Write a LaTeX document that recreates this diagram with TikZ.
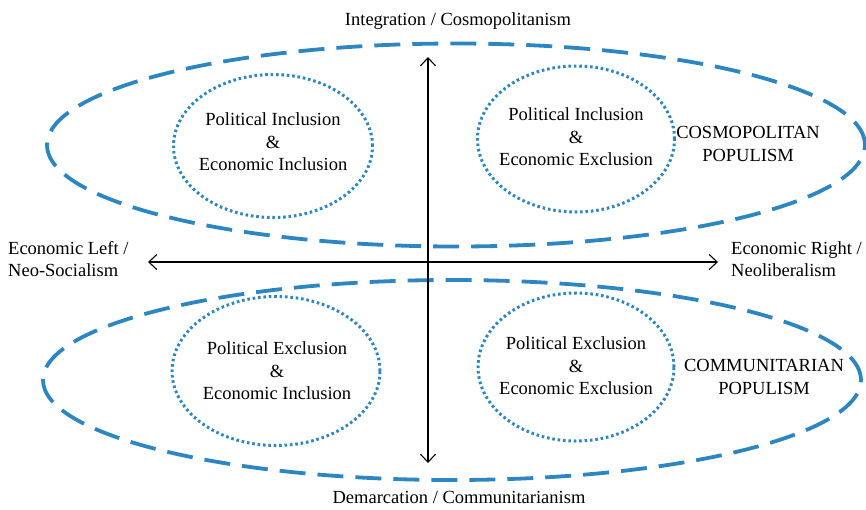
\documentclass[tikz,border=0pt]{standalone}
\usepackage{fontspec}
\setmainfont{Liberation Serif}
\usetikzlibrary{arrows.meta,shapes.geometric}
\definecolor{popblue}{RGB}{46,134,193}
\tikzset{
  bigell/.style={ellipse, draw=popblue, line width=3.8pt, dash pattern=on 26pt off 12pt, inner sep=0pt},
  dotell/.style={ellipse, draw=popblue, line width=3pt, dash pattern=on 2.6pt off 2.8pt, inner sep=0pt},
  lbl/.style={font=\fontsize{18.5pt}{22.5pt}\selectfont, align=center, inner sep=0pt},
  lbll/.style={font=\fontsize{18.5pt}{22.5pt}\selectfont, align=left, inner sep=0pt, anchor=west},
  axis/.style={line width=1.1pt, {Straight Barb[length=8pt,width=15pt]}-{Straight Barb[length=8pt,width=15pt]}}
}
\begin{document}
\begin{tikzpicture}[x=1pt,y=-1pt]
\useasboundingbox (0,0) rectangle (866,509);
% big dashed ellipses
\node[bigell, minimum width=818pt, minimum height=203pt] (cosmo) at (456,145) {};
\node[bigell, minimum width=818pt, minimum height=200pt] (comm) at (452,380) {};
% dotted ellipses
\node[dotell, minimum width=199pt, minimum height=143pt] (tl) at (273,146) {};
\node[dotell, minimum width=197pt, minimum height=146pt] (tr) at (576,139) {};
\node[dotell, minimum width=208pt, minimum height=149pt] (bl) at (276,371) {};
\node[dotell, minimum width=196pt, minimum height=148pt] (br) at (576,367) {};
% axes
\coordinate (ytop) at (428,57);
\coordinate (ybot) at (428,463);
\coordinate (xleft) at (148,262);
\coordinate (xright) at (718,262);
\draw[axis] (ytop) -- (ybot);
\draw[axis] (xleft) -- (xright);
% texts
\node[lbl] (ttop) at (458,21) {Integration / Cosmopolitanism};
\node[lbl] (tbot) at (459,497) {Demarcation / Communitarianism};
\node[lbll] (tleft) at (8,259) {Economic Left /\\Neo-Socialism};
\node[lbll] (tright) at (731,259) {Economic Right /\\Neoliberalism};
\node[lbl] (ttl) at (273,142) {Political Inclusion\\\&\\Economic Inclusion};
\node[lbl] (ttr) at (576,137) {Political Inclusion\\\&\\Economic Exclusion};
\node[lbl] (tbl) at (277,371) {Political Exclusion\\\&\\Economic Inclusion};
\node[lbl] (tbr) at (576,366) {Political Exclusion\\\&\\Economic Exclusion};
\node[lbl] (tcosmo) at (748,144) {COSMOPOLITAN\\POPULISM};
\node[lbl] (tcomm) at (764,377) {COMMUNITARIAN\\POPULISM};
\end{tikzpicture}
\end{document}
